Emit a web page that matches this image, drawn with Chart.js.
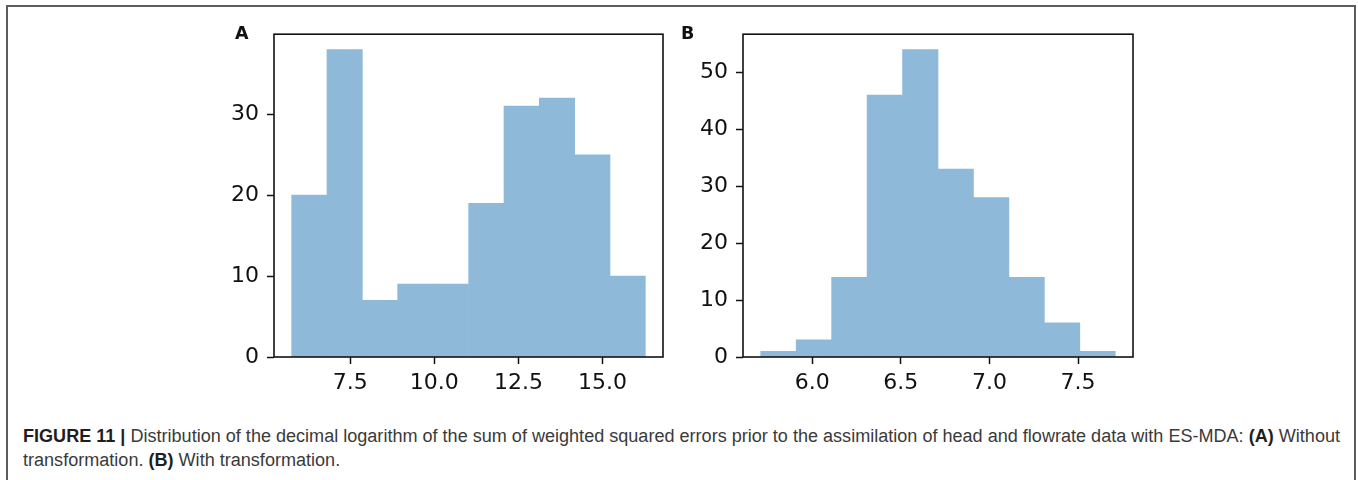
<!DOCTYPE html>
<html>
<head>
<meta charset="utf-8">
<title>Figure 11</title>
<script src="https://cdn.jsdelivr.net/npm/chart.js@4.4.1/dist/chart.umd.min.js"></script>
<style>
  html, body { margin: 0; padding: 0; background: #fff; }
  body { width: 1358px; height: 480px; position: relative; overflow: hidden; }
  .frame {
    position: absolute; left: 6px; top: 5px; width: 1346px; height: 500px;
    border: 2px solid #5c5c5c; border-bottom: none;
  }
  .chart { position: absolute; }
  .panel-tag {
    position: absolute; font-family: "DejaVu Sans", sans-serif;
    font-weight: bold; font-size: 17.5px; color: #111; line-height: 1;
  }
  .caption {
    position: absolute; left: 23px; top: 424px; white-space: nowrap;
    font-family: "Liberation Sans", Arial, sans-serif;
    font-size: 18px; line-height: 24px; color: #3a3a3a;
    transform-origin: 0 0;
  }
  .caption b { color: #1e1e1e; }
</style>
</head>
<body>
<div class="frame"></div>

<div class="chart" style="left:200px;top:13px;width:470px;height:390px;"><canvas id="histA"></canvas></div>
<div class="chart" style="left:672px;top:13px;width:470px;height:390px;"><canvas id="histB"></canvas></div>
<div class="panel-tag" style="left:235px;top:25px;">A</div>
<div class="panel-tag" style="left:681px;top:25px;">B</div>

<div class="caption" id="caption"><b>FIGURE 11 |</b> Distribution of the decimal logarithm of the sum of weighted squared errors prior to the assimilation of head and flowrate data with ES-MDA: <b>(A)</b> Without<br>transformation. <b>(B)</b> With transformation.</div>

<script>
// panel A: without transformation
const edgesA = [5.76, 6.81, 7.86, 8.91, 9.96, 11.02, 12.07, 13.12, 14.17, 15.22, 16.27];
const countsA = [20, 38, 7, 9, 9, 19, 31, 32, 25, 10];
const xTicksA = [7.5, 10.0, 12.5, 15.0];
const yTicksA = [0, 10, 20, 30];

// panel B: with transformation
const edgesB = [5.71, 5.91, 6.11, 6.31, 6.51, 6.71, 6.91, 7.11, 7.31, 7.51, 7.71];
const countsB = [1, 3, 14, 46, 54, 33, 28, 14, 6, 1];
const xTicksB = [6.0, 6.5, 7.0, 7.5];
const yTicksB = [0, 10, 20, 30, 40, 50];

const BAR_COLOR = '#8fb9d9';
const INK = '#111';
const tickFont = { family: 'DejaVu Sans', size: 22 };

// box around the plot area (all four spines)
const spines = {
  id: 'spines',
  afterDatasetsDraw(chart) {
    const a = chart.chartArea;
    const ctx = chart.ctx;
    ctx.save();
    ctx.strokeStyle = INK;
    ctx.lineWidth = 1.6;
    ctx.strokeRect(a.left, a.top, a.right - a.left, a.bottom - a.top);
    ctx.restore();
  }
};

function histogram(canvasId, edges, counts, xTicks, yTicks, yAxisWidth, padRight) {
  const points = counts.map((c, i) => ({ x: (edges[i] + edges[i + 1]) / 2, y: c }));
  const span = edges[edges.length - 1] - edges[0];
  return new Chart(document.getElementById(canvasId), {
    type: 'bar',
    data: {
      datasets: [{
        data: points,
        backgroundColor: BAR_COLOR,
        borderWidth: 0,
        barPercentage: 1,
        categoryPercentage: 1
      }]
    },
    options: {
      responsive: true,
      maintainAspectRatio: false,
      animation: false,
      events: [],
      layout: { padding: { top: 10, right: padRight, left: 0, bottom: 0 } },
      plugins: { legend: { display: false }, tooltip: { enabled: false } },
      scales: {
        x: {
          type: 'linear',
          offset: false,
          min: edges[0] - 0.05 * span,
          max: edges[edges.length - 1] + 0.05 * span,
          afterBuildTicks: s => { s.ticks = xTicks.map(v => ({ value: v })); },
          afterFit: s => { s.height = 46; },
          ticks: {
            color: INK, font: tickFont, padding: 6, maxRotation: 0,
            autoSkip: false, callback: v => Number(v).toFixed(1)
          },
          grid: {
            offset: false, drawOnChartArea: false, drawTicks: true, tickLength: 7,
            tickWidth: 1.5, tickColor: INK
          },
          border: { display: false }
        },
        y: {
          min: 0,
          max: Math.max(...counts) * 1.05,
          afterBuildTicks: s => { s.ticks = yTicks.map(v => ({ value: v })); },
          afterFit: s => { s.width = yAxisWidth; },
          ticks: { color: INK, font: tickFont, padding: 8, callback: v => String(v) },
          grid: {
            drawOnChartArea: false, drawTicks: true, tickLength: 7,
            tickWidth: 1.5, tickColor: INK
          },
          border: { display: false }
        }
      }
    },
    plugins: [spines]
  });
}

histogram('histA', edgesA, countsA, xTicksA, yTicksA, 74, 7);
histogram('histB', edgesB, countsB, xTicksB, yTicksB, 71, 9);

// squeeze the caption so the first line spans the frame width
const cap = document.getElementById('caption');
const targetWidth = 1340 - 23;
const scale = targetWidth / cap.getBoundingClientRect().width;
cap.style.transform = 'scaleX(' + scale.toFixed(4) + ')';
</script>
</body>
</html>
